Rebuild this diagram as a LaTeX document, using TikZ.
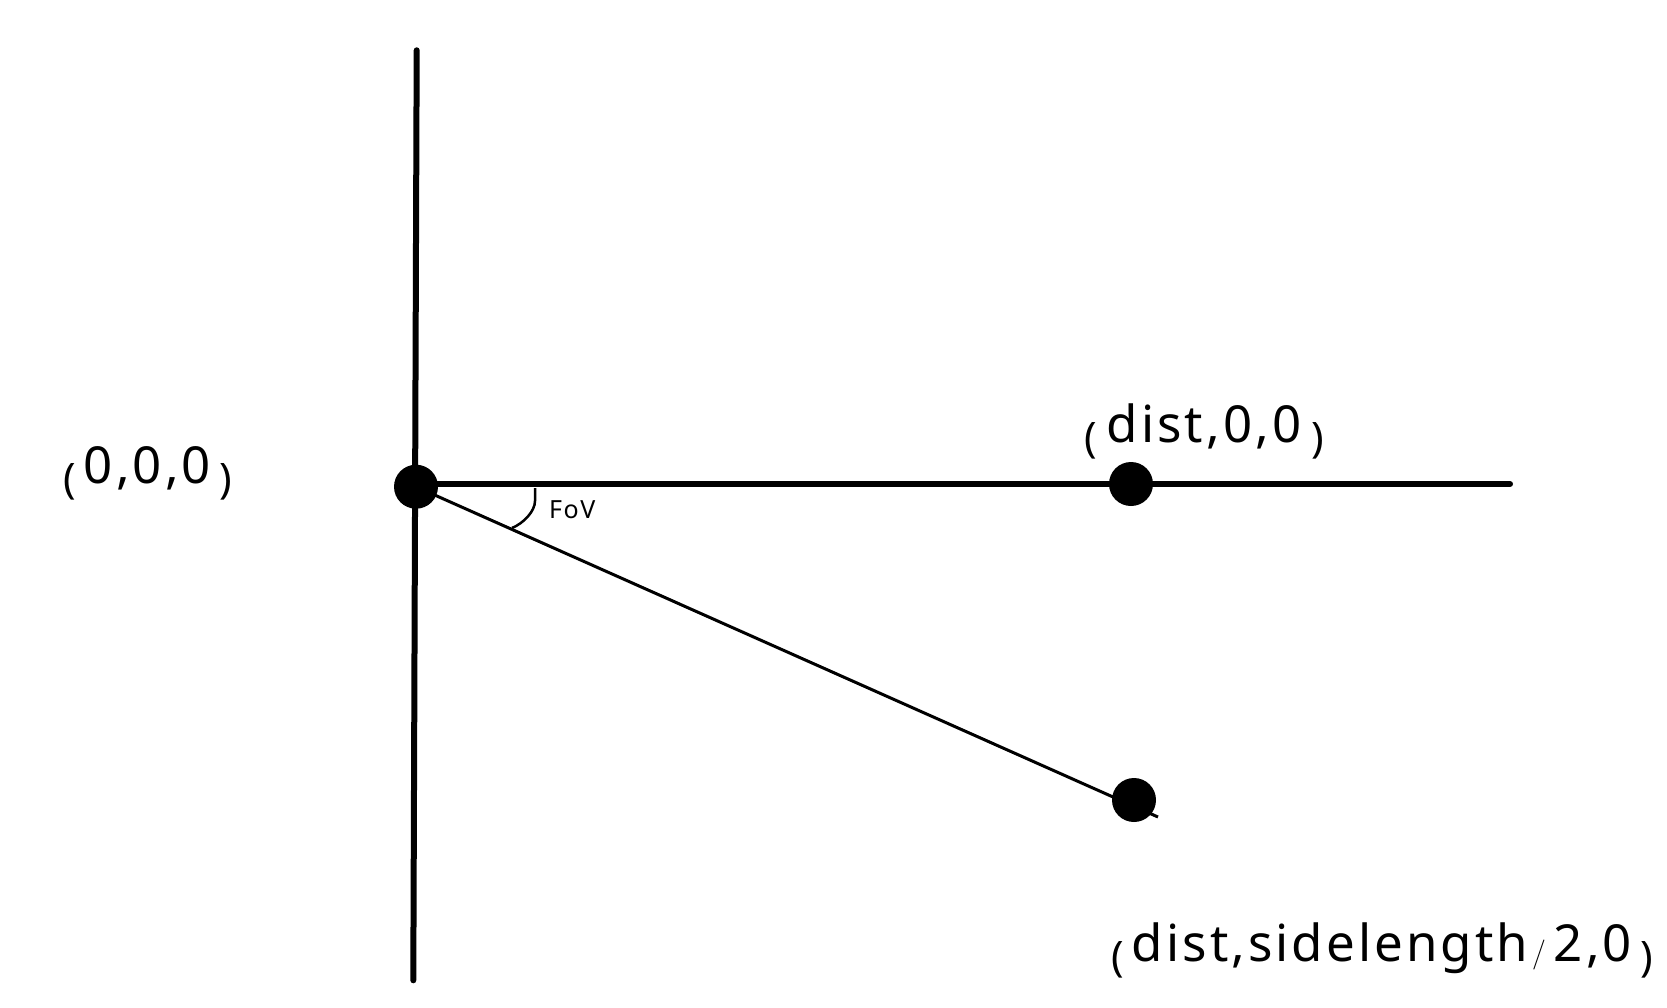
\documentclass[tikz,border=0pt]{standalone}
\usepackage{fontspec}
\newfontfamily\lblfont[LetterSpace=6]{Noto Sans}
\newfontfamily\smallfont{Noto Sans}
\newcommand\sglyph[1]{{\smallfont\fontsize{42}{42}\selectfont\raisebox{-10pt}{#1}}}
\newcommand\sslash{{\rmfamily\fontsize{30}{30}\selectfont\raisebox{-1pt}{/}}}
\begin{document}
\begin{tikzpicture}[x=1pt,y=-1pt]
\tikzset{
  dot/.style={circle,fill=black,minimum size=44pt,inner sep=0pt},
  axis/.style={line width=6pt,line cap=round},
  ray/.style={line width=3pt},
  anglemark/.style={line width=2.5pt},
  lbl/.style={anchor=base,inner sep=0pt,font=\lblfont\fontsize{51}{51}\selectfont},
  small/.style={anchor=base west,inner sep=0pt,font=\lblfont\bfseries\fontsize{25}{25}\selectfont},
}
\useasboundingbox (0,0) rectangle (1667,1007);
\coordinate (vtop) at (416.7,50.3);
\coordinate (vbot) at (413.3,980.3);
\coordinate (hend) at (1510,484);
\coordinate (tail) at (1158,817);
\coordinate (arcA) at (535,488);
\coordinate (arcB) at (512,528);
\node[dot] (O) at (416,486.7) {};
\node[dot] (D) at (1131,484) {};
\node[dot] (S) at (1134,800) {};
\draw[axis] (vtop) -- (vbot);
\draw[axis] (O.center |- hend) -- (hend);
\draw[ray] (O.center) -- (tail);
\draw[anglemark] (arcA) -- ++(0,13) .. controls +(0,10) and +(12,-5) .. (arcB);
\node[small] (fov) at (549,518) {FoV};
\node[lbl] (L0) at (147.5,483) {\sglyph{(}\hspace{8pt}0,0,0\hspace{8pt}\sglyph{)}};
\node[lbl] (L1) at (1204,442) {\sglyph{(}\hspace{10pt}dist,0,0\hspace{10pt}\sglyph{)}};
\node[lbl] (L2) at (1382,961) {\sglyph{(}\hspace{8pt}dist,sidelength\hspace{4pt}\sslash\hspace{8pt}2,0\hspace{8pt}\sglyph{)}};
\end{tikzpicture}
\end{document}
